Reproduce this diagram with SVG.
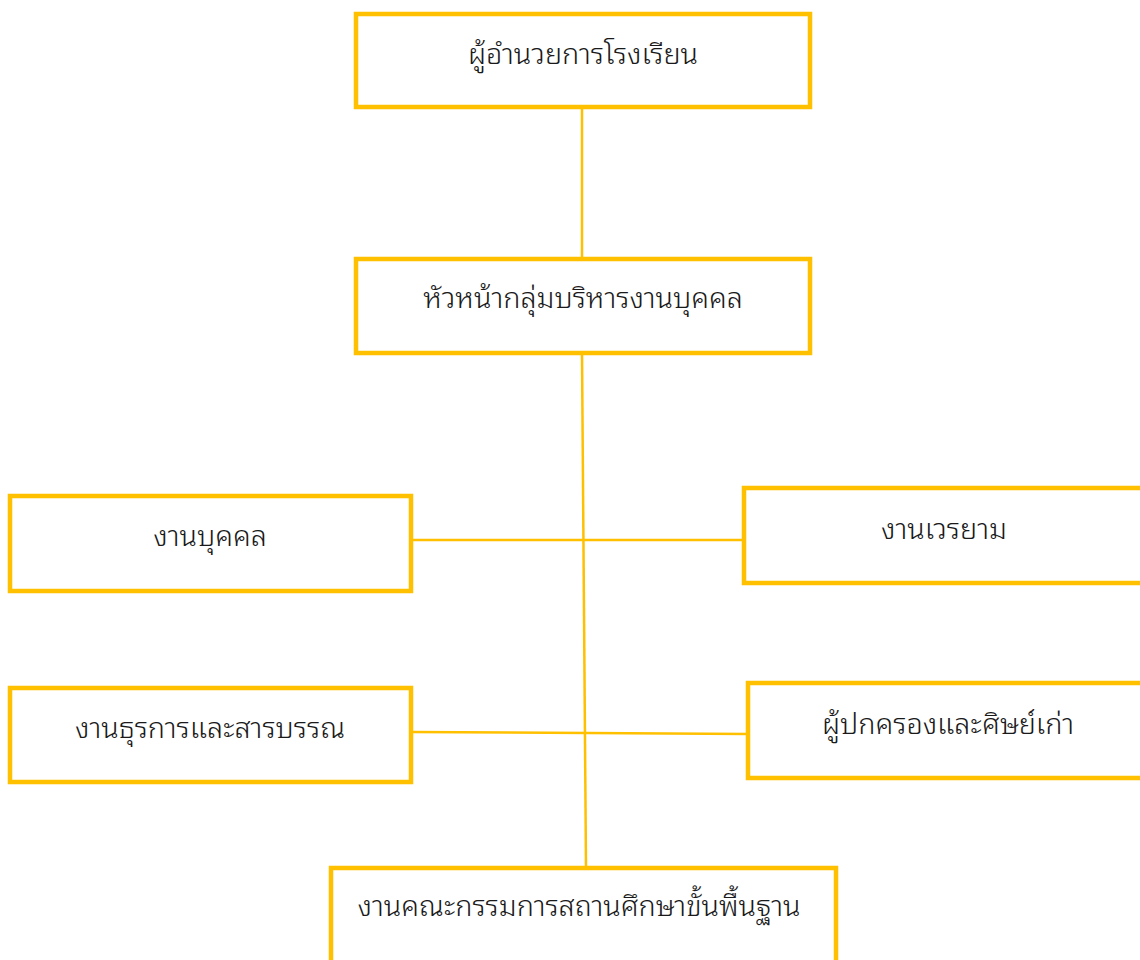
<svg xmlns="http://www.w3.org/2000/svg" width="1140" height="960" viewBox="0 0 1140 960">
<style>
.box{fill:#fff;stroke:#FFC000;stroke-width:4.5}
.lbl{font-family:"Noto Sans Thai Looped","Noto Sans Thai","Leelawadee UI","Tahoma","Noto Sans",sans-serif;font-size:28.8px;font-weight:300;fill:#1a1a1a;text-anchor:middle}
.conn{stroke:#FFC000;stroke-width:2.5;fill:none}
</style>
<rect width="1140" height="960" fill="#fff"/>
<g id="connectors">
<line class="conn" x1="582" y1="107" x2="582" y2="259"/>
<line class="conn" x1="582" y1="354" x2="586" y2="868"/>
<line class="conn" x1="411" y1="540" x2="744" y2="540"/>
<line class="conn" x1="411" y1="732" x2="748" y2="734"/>
</g>
<g id="n1"><rect class="box" x="356" y="14" width="454" height="93"/><text class="lbl" x="583" y="64">ผู้อำนวยการโรงเรียน</text></g>
<g id="n2"><rect class="box" x="356" y="259" width="454" height="94"/><text class="lbl" x="583" y="308">หัวหน้ากลุ่มบริหารงานบุคคล</text></g>
<g id="n3"><rect class="box" x="10" y="496" width="401" height="95"/><text class="lbl" x="210" y="546">งานบุคคล</text></g>
<g id="n4"><rect class="box" x="744" y="488" width="410" height="95"/><text class="lbl" x="944" y="539">งานเวรยาม</text></g>
<g id="n5"><rect class="box" x="10" y="688" width="401" height="94"/><text class="lbl" x="210" y="738">งานธุรการและสารบรรณ</text></g>
<g id="n6"><rect class="box" x="748" y="683" width="410" height="95"/><text class="lbl" x="948" y="734">ผู้ปกครองและศิษย์เก่า</text></g>
<g id="n7"><rect class="box" x="331" y="868" width="505" height="110"/><text class="lbl" x="579" y="916">งานคณะกรรมการสถานศึกษาขั้นพื้นฐาน</text></g>
</svg>
